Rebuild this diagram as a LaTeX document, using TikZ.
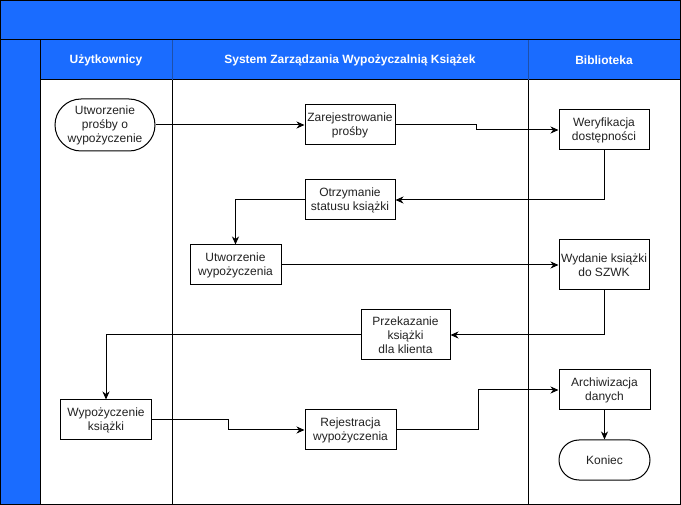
\documentclass[tikz,border=0pt]{standalone}
\usepackage{fontspec}
\setmainfont{Liberation Sans}
\usetikzlibrary{arrows.meta}
\definecolor{lane}{RGB}{26,108,255}
\definecolor{hdrline}{RGB}{30,80,170}
\definecolor{txt}{RGB}{34,34,34}
\begin{document}
\begin{tikzpicture}[x=1pt,y=-1pt,
 proc/.style={draw=black,line width=1pt,fill=white,minimum width=90pt,minimum height=40pt,align=center,font=\fontsize{12}{14}\selectfont,text=txt,inner sep=1pt},
 term/.style={proc,rounded corners=20pt},
 flow/.style={draw=black,line width=1pt,-{Stealth[length=8pt,width=7pt,inset=2.5pt]}},
 hdr/.style={font=\bfseries\fontsize{12}{14}\selectfont,text=white},
 frame/.style={draw=black,line width=1pt}]
\useasboundingbox (0,0) rectangle (681,505);
% background
\fill[white] (0,0) rectangle (681,505);
\fill[lane] (0,0) rectangle (681,40);
\fill[lane] (0,40) rectangle (40,505);
\fill[lane] (40,40) rectangle (680,80);
% frame lines
\draw[frame] (0.5,0.5) rectangle (680.5,504.5);
\draw[frame] (0,40) -- (681,40);
\draw[frame] (40,40) -- (40,505);
\draw[frame] (40,80) -- (680,80);
\draw[frame] (172,80) -- (172,505);
\draw[frame] (528,80) -- (528,505);
\draw[hdrline,line width=1pt] (172,40) -- (172,80);
\draw[hdrline,line width=1pt] (528,40) -- (528,80);
% headers
\node[hdr] (h1) at (106,60) {Użytkownicy};
\node[hdr] (h2) at (350,60) {System Zarządzania Wypożyczalnią Książek};
\node[hdr] (h3) at (604,60) {Biblioteka};
% nodes
\node[term,minimum width=100pt,minimum height=52pt,rounded corners=26pt] (start) at (105,125) {Utworzenie\\prośby o\\wypożyczenie};
\node[proc] (zar) at (350,125) {Zarejestrowanie\\prośby};
\node[proc] (wer) at (604,130) {Weryfikacja\\dostępności};
\node[proc] (otr) at (350,200) {Otrzymanie\\statusu książki};
\node[proc,minimum width=91pt] (utw) at (235.5,265) {Utworzenie\\wypożyczenia};
\node[proc,minimum height=50pt] (wyd) at (604,265) {Wydanie książki\\do SZWK};
\node[proc,minimum width=89pt,minimum height=50pt] (prz) at (405.5,335) {Przekazanie\\książki\\dla klienta};
\node[proc,minimum width=91pt] (wyp) at (106,420) {Wypożyczenie\\książki};
\node[proc,minimum width=91pt] (rej) at (350.5,430) {Rejestracja\\wypożyczenia};
\node[proc,minimum width=91pt] (arc) at (604.5,390) {Archiwizacja\\danych};
\node[term,minimum width=91pt] (kon) at (604.5,460) {Koniec};
% connectors
\draw[flow] (start.east) -- (zar.west);
\draw[flow] (zar.east) -- ++(81,0) |- (wer.west);
\draw[flow] (wer.south) |- (otr.east);
\draw[flow] (otr.west) -| (utw.north);
\draw[flow] (utw.east) -- (wyd.west);
\draw[flow] (wyd.south) |- (prz.east);
\draw[flow] (prz.west) -| (wyp.north);
\draw[flow] (wyp.east) -- ++(76,0) |- (rej.west);
\draw[flow] (rej.east) -- ++(82,0) |- (arc.west);
\draw[flow] (arc.south) -- (kon.north);
\end{tikzpicture}
\end{document}
